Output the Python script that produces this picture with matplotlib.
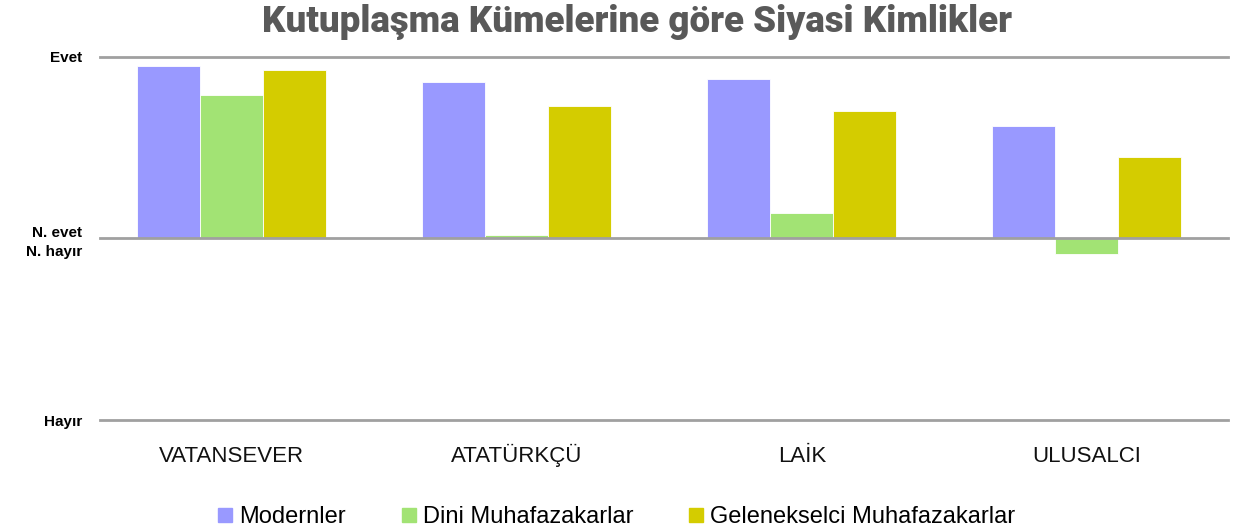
import matplotlib
matplotlib.use("Agg")
import matplotlib.pyplot as plt
import numpy as np
from matplotlib.lines import Line2D

# --- Dados ---
kategoriler = ["VATANSEVER", "ATATÜRKÇÜ", "LAİK", "ULUSALCI"]
seriler = ["Modernler", "Dini Muhafazakarlar", "Gelenekselci Muhafazakarlar"]
modernler = [0.95, 0.86, 0.88, 0.62]
dini = [0.79, 0.017, 0.138, -0.088]
gelenekselci = [0.93, 0.73, 0.70, 0.45]
renkler = ["#9999FF", "#A2E374", "#D4CC00"]
ytick_deger = [-1, 0, 1]
ytick_etiket = ["Hayır", "N. evet\nN. hayır", "Evet"]

fig = plt.figure(figsize=(12.34, 5.32), dpi=100)
ax = fig.add_axes([0.081, 0.2105, 0.914, 0.6825])

x = np.arange(len(kategoriler))
w = 0.221
for i, (vals, c) in enumerate(zip([modernler, dini, gelenekselci], renkler)):
    ax.bar(x + (i - 1) * w, vals, width=w, color=c, edgecolor="white",
           linewidth=0.6, zorder=2)

# linhas de grade só em -1, 0, 1
for v in ytick_deger:
    ax.axhline(v, color="#A0A0A0", linewidth=2, zorder=3, clip_on=False)

ax.set_xlim(-0.463, 3.495)
ax.set_ylim(-1, 1)
ax.set_yticks(ytick_deger)
ax.set_yticklabels(ytick_etiket, fontsize=11, fontweight="bold",
                   family="Liberation Sans", linespacing=1.5)
ax.tick_params(axis="y", length=0, pad=13)
ax.set_xticks([])
# rótulos das categorias alinhados pela linha de base
for xi, k in zip(x, kategoriler):
    ax.text(xi, -0.116, k, transform=ax.get_xaxis_transform(), ha="center",
            va="baseline", fontsize=16, family="Liberation Sans",
            color="#111111")
for s in ax.spines.values():
    s.set_visible(False)

fig.text(0.516, 0.958, "Kutuplaşma Kümelerine göre Siyasi Kimlikler",
         ha="center", va="center", fontsize=26.5, fontweight="black",
         family="Roboto", color="#595959")

handles = [Line2D([], [], marker="s", linestyle="none", markersize=10,
                  markerfacecolor=c, markeredgecolor=c) for c in renkler]
fig.legend(handles, seriler, loc="center", bbox_to_anchor=(0.497, 0.028),
           ncol=3, frameon=False, handletextpad=0.0, columnspacing=2.05,
           handlelength=1.2, prop={"family": "Liberation Sans", "size": 17})

fig.savefig("out.png", dpi=100)
